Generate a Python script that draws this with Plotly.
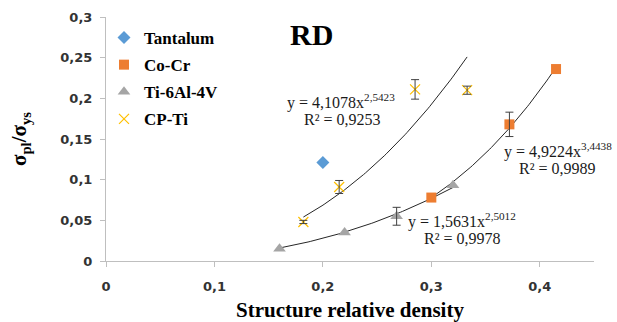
import numpy as np
import plotly.graph_objects as go

# Measured data: normalised plateau stress vs relative density
ta_x = [0.20]
ta_y = [0.121]

cocr_x = [0.30, 0.372, 0.415]
cocr_y = [0.078, 0.168, 0.236]
cocr_err = [0.0, 0.015, 0.0]

ti64_x = [0.16, 0.22, 0.268, 0.32]
ti64_y = [0.015, 0.035, 0.055, 0.093]
ti64_err = [0.0, 0.0, 0.011, 0.0]

cpti_x = [0.182, 0.215, 0.285, 0.333]
cpti_y = [0.048, 0.091, 0.211, 0.21]
cpti_err = [0.002, 0.008, 0.012, 0.005]

# Power-law fits y = a * x^b
fit_cpti = (4.1078, 2.5423, 0.9253)
fit_cocr = (4.9224, 3.4438, 0.9989)
fit_ti64 = (1.5631, 2.5012, 0.9978)

x_ticks = [0, 0.1, 0.2, 0.3, 0.4]
y_ticks = [0, 0.05, 0.1, 0.15, 0.2, 0.25, 0.3]

SERIF = "Liberation Serif"
SERIF_B = "Liberation Serif, Times New Roman, DejaVu Serif, serif"
SANS = "DejaVu Sans"

fig = go.Figure()


def fit_curve(xs, coef):
    a, b, _ = coef
    xx = np.linspace(min(xs), max(xs), 80)
    return xx, a * xx ** b


# trend lines
for xs, coef in [(cpti_x, fit_cpti), (ti64_x, fit_ti64), (cocr_x, fit_cocr)]:
    xx, yy = fit_curve(xs, coef)
    fig.add_trace(go.Scatter(x=xx, y=yy, mode="lines", showlegend=False,
                             hoverinfo="skip",
                             line=dict(color="#262626", width=1)))

series = [
    ("Tantalum", ta_x, ta_y, None, "#5B9BD5", "diamond", 10),
    ("Co-Cr", cocr_x, cocr_y, cocr_err, "#ED7D31", "square", 10),
    ("Ti-6Al-4V", ti64_x, ti64_y, ti64_err, "#A5A5A5", "triangle-up", 11),
    ("CP-Ti", cpti_x, cpti_y, cpti_err, "#FFC000", "x-thin-open", 10),
]

for name, xs, ys, err, color, sym, size in series:
    marker = dict(color=color, symbol=sym, size=size)
    if sym == "x-thin-open":
        marker["line"] = dict(color=color, width=1.2)
    fig.add_trace(go.Scatter(x=xs, y=ys, mode="markers", name=name,
                             legendgroup=name, marker=marker))

# error bars drawn on top of the markers
for name, xs, ys, err, color, sym, size in series:
    if err is None:
        continue
    ex = [x for x, e in zip(xs, err) if e > 0]
    ey = [y for y, e in zip(ys, err) if e > 0]
    ee = [e for e in err if e > 0]
    fig.add_trace(go.Scatter(x=ex, y=ey, mode="markers", showlegend=False,
                             hoverinfo="skip", marker=dict(opacity=0, size=1),
                             error_y=dict(type="data", array=ee, visible=True,
                                          color="#404040", thickness=1, width=4)))

L, R, T, B = 106, 23, 17, 61
W, H = 617, 322
pw, ph = W - L - R, H - T - B


def px(x):
    return (x - L) / pw


def py(y):
    return (H - B - y) / ph


annots = [
    ("y = 4,1078x<sup>2,5423</sup>", 341, 101),
    ("R² = 0,9253", 342, 120),
    ("y = 4,9224x<sup>3,4438</sup>", 558, 150),
    ("R² = 0,9989", 557, 168),
    ("y = 1,5631x<sup>2,5012</sup>", 462, 220),
    ("R² = 0,9978", 462, 238),
]
for text, ax, ay in annots:
    fig.add_annotation(text=text, x=px(ax), y=py(ay),
                       xref="paper", yref="paper", showarrow=False,
                       xanchor="center", yanchor="middle",
                       font=dict(family=SERIF, size=16, color="#1a1a1a"))

fig.add_annotation(text="RD", x=px(311), y=py(34), xref="paper", yref="paper",
                   showarrow=False, xanchor="center", yanchor="middle",
                   font=dict(family=SERIF_B, size=30, color="black", weight="bold"))

axis_common = dict(showgrid=False, zeroline=False, showline=True,
                   linecolor="#BFBFBF", linewidth=1, ticks="outside",
                   ticklen=5, tickcolor="#BFBFBF", automargin=False,
                   tickfont=dict(family=SANS, size=13, color="#333333",
                                 weight="bold"))

fig.update_xaxes(range=[0, 0.45], tickvals=x_ticks, ticklabelstandoff=8,
                 title=dict(text="Structure relative density", standoff=20,
                            font=dict(family=SERIF_B, size=21, color="black",
                                      weight="bold")),
                 **axis_common)
fig.update_yaxes(range=[0, 0.3], tickvals=y_ticks, ticklabelstandoff=5,
                 title=dict(text="σ<sub>pl</sub>/σ<sub>ys</sub>", standoff=27,
                            font=dict(family=SERIF_B, size=21, color="black",
                                      weight="bold")),
                 **axis_common)

fig.update_layout(
    width=W, height=H,
    margin=dict(l=L, r=R, t=T, b=B, pad=0),
    paper_bgcolor="white", plot_bgcolor="white",
    separators=", ",
    showlegend=True,
    legend=dict(x=px(104), y=py(20), xanchor="left", yanchor="top",
                bgcolor="rgba(0,0,0,0)", tracegroupgap=2,
                font=dict(family=SERIF_B, size=17, color="black", weight="bold")),
)

fig.write_html("out.html")
